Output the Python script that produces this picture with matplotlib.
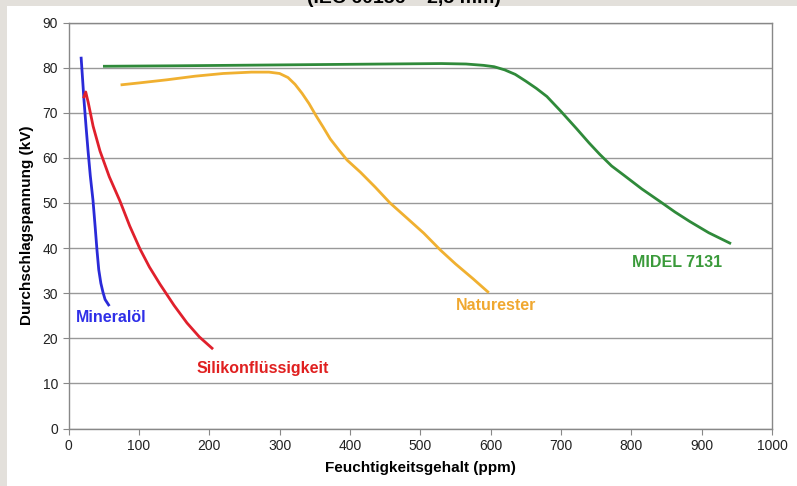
import matplotlib
matplotlib.use("Agg")
import matplotlib.pyplot as plt
from matplotlib.patches import Rectangle

plt.rcParams['font.family'] = ['Liberation Sans', 'DejaVu Sans']

# Durchschlagspannung vs. Feuchtigkeitsgehalt
mineraloel_x = [18, 20, 22, 25, 27.7, 31, 34.8, 38, 40.5, 43, 46, 49, 52, 57]
mineraloel_y = [82.1, 77.5, 72.8, 66.8, 61.7, 56.0, 50.6, 44.5, 39.5, 35.2, 32.2, 30.2, 28.6, 27.4]

silikon_x = [22, 24.5, 28, 35, 44.8, 58, 73.2, 87, 101.6, 115, 130, 150, 168.4, 186, 204]
silikon_y = [73.5, 74.6, 72.3, 67.0, 61.5, 55.8, 50.4, 44.9, 39.8, 35.8, 32.0, 27.3, 23.4, 20.3, 17.8]

naturester_x = [76, 100, 140, 180, 220, 260, 285, 300, 312, 322, 332, 342, 352, 362, 372,
                384, 396, 415, 436, 457, 480, 505, 529, 550, 575, 596]
naturester_y = [76.2, 76.6, 77.3, 78.1, 78.7, 79.0, 79.0, 78.7, 77.8, 76.3, 74.3, 72.0, 69.3, 66.8, 64.2,
                61.8, 59.5, 56.8, 53.5, 50.0, 46.8, 43.3, 39.5, 36.5, 33.2, 30.3]

midel_x = [51, 150, 300, 450, 530, 565, 590, 605, 620, 635, 650, 665, 680, 700, 722,
           740, 755, 772, 789, 815, 841, 862, 883, 910, 940]
midel_y = [80.3, 80.4, 80.6, 80.8, 80.9, 80.8, 80.5, 80.2, 79.5, 78.5, 77.0, 75.4, 73.6, 70.3, 66.5,
           63.3, 60.8, 58.2, 56.2, 53.1, 50.3, 48.0, 45.9, 43.4, 41.1]

x_ticks = list(range(0, 1001, 100))
y_ticks = list(range(0, 91, 10))

fig = plt.figure(figsize=(7.97, 4.86), dpi=100, facecolor='white')
# grey strips on the left and top
grey = '#e3e0db'
fig.patches.append(Rectangle((0, 0), 7 / 797, 1, transform=fig.transFigure,
                             facecolor=grey, edgecolor='none', zorder=-5))
fig.patches.append(Rectangle((0, 1 - 6 / 486), 1, 6 / 486, transform=fig.transFigure,
                             facecolor=grey, edgecolor='none', zorder=-5))

ax = fig.add_axes([68.5 / 797, 1 - 428.5 / 486, 703.5 / 797, 406 / 486])
ax.set_facecolor('white')

ax.plot(mineraloel_x, mineraloel_y, color='#2a2ad8', lw=2)
ax.plot(silikon_x, silikon_y, color='#e0202c', lw=2)
ax.plot(naturester_x, naturester_y, color='#f0b030', lw=2)
ax.plot(midel_x, midel_y, color='#2f8a3a', lw=2)

lab = dict(fontsize=11.5, fontweight='bold', ha='center', va='center')
ax.text(60, 24.5, 'Mineralöl', color='#2f2fe8', **lab)
ax.text(276, 13.4, 'Silikonflüssigkeit', color='#e02020', **lab)
ax.text(608, 27.2, 'Naturester', color='#f0a830', **lab)
ax.text(865, 36.9, 'MIDEL 7131', color='#3a9a3a', **lab)

ax.set_xlim(0, 1000)
ax.set_ylim(0, 90)
ax.set_xticks(x_ticks)
ax.set_yticks(y_ticks)
ax.tick_params(labelsize=10, colors='#222222', length=4, width=0.8)
ax.tick_params(axis='both', color='#888888')
ax.grid(axis='y', color='#999999', lw=1)
for s in ax.spines.values():
    s.set_color('#888888')
    s.set_linewidth(1)

ax.set_xlabel('Feuchtigkeitsgehalt (ppm)', fontsize=11, fontweight='bold', labelpad=6)
ax.set_ylabel('Durchschlagspannung (kV)', fontsize=11, fontweight='bold', labelpad=6)

# title cut off at the top of the picture, as in the source image
fig.text(404 / 797, 1 - 3 / 486, '(IEC 60156 – 2,5 mm)', fontsize=14, fontweight='bold',
         ha='center', va='baseline')

fig.savefig('out.png', dpi=100, facecolor=fig.get_facecolor())
